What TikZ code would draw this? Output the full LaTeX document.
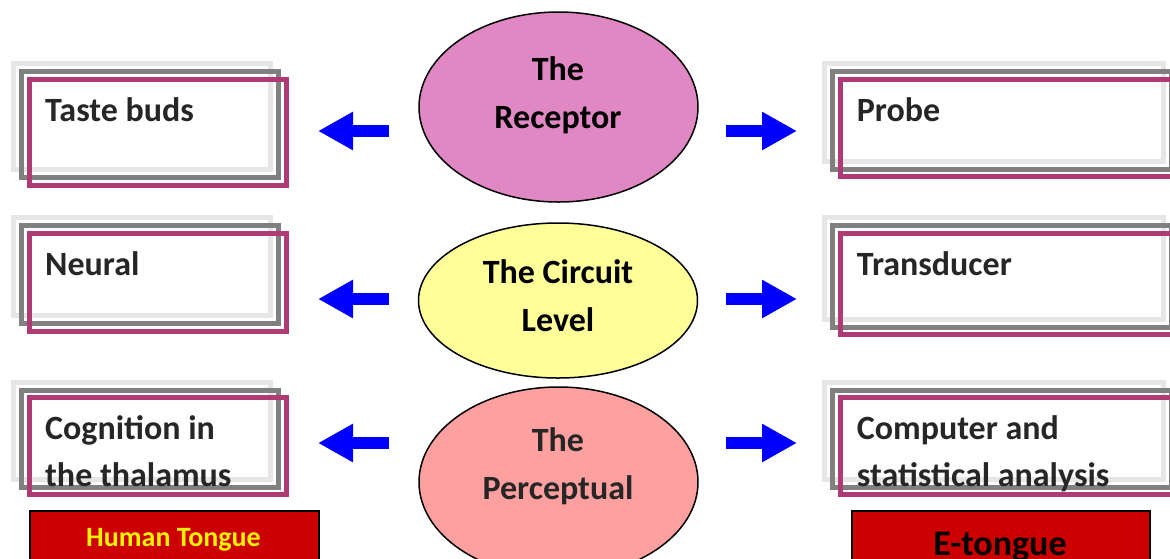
\documentclass[tikz,border=0pt]{standalone}
\usepackage{fontspec}
\setmainfont{Carlito}
\usetikzlibrary{arrows.meta, shapes.geometric}

\definecolor{framelight}{RGB}{230,230,230}
\definecolor{framedark}{RGB}{128,128,128}
\definecolor{framepink}{RGB}{176,58,116}
\definecolor{receptorfill}{RGB}{224,136,196}
\definecolor{circuitfill}{RGB}{255,255,153}
\definecolor{perceptfill}{RGB}{255,160,160}
\definecolor{tonguered}{RGB}{204,0,0}
\definecolor{textgray}{RGB}{38,38,38}

\begin{document}
\begin{tikzpicture}[x=1pt, y=-1pt,
    level/.style = {draw, ellipse, line width=1.5pt, minimum width=279pt},
    lightframe/.style = {draw=framelight, line width=5pt},
    darkframe/.style = {draw=framedark, line width=5pt},
    pinkframe/.style = {draw=framepink, line width=5pt},
    boxtext/.style = {anchor=base west, align=left, inner sep=0pt, text=textgray,
                      font=\fontsize{34}{47}\selectfont\bfseries},
    leveltext/.style = {anchor=base, align=center, inner sep=0pt,
                        font=\fontsize{34}{48}\selectfont\bfseries},
    bluearrow/.style = {draw=blue, line width=12pt, -{Triangle[length=35pt, width=36pt]}},
    tonguebox/.style = {draw=black, fill=tonguered, line width=1.5pt, anchor=north west, minimum height=80pt}]
      \useasboundingbox (0,0) rectangle (1170,558);
      \clip (0,0) rectangle (1170,558);

      % three frames per box
      \foreach \x/\y/\w/\h in {13.5/63.5/257/106, 13.5/217.5/257/98, 13.5/382/257/97,
                                824.8/63.5/338.2/97.5, 824.8/217.5/338.2/101.5, 824.8/382/338.2/97}
               {
                 \draw [lightframe] (\x,\y) rectangle ++(\w,\h);
                 \draw [darkframe] (\x+8,\y+8) rectangle ++(\w,\h);
                 \draw [pinkframe] (\x+16,\y+15.5) rectangle ++(\w,\h);
               }
      % base of a two-line node is its last line
      \node [boxtext] (taste) at (45, 121.7) {Taste buds};
      \node [boxtext] (neural) at (45, 275) {Neural};
      \node [boxtext] (cognition) at (45, 486.7) {Cognition in\\the thalamus};
      \node [boxtext] (probe) at (856.7, 121.7) {Probe};
      \node [boxtext] (transducer) at (856.7, 275) {Transducer};
      \node [boxtext] (computer) at (856.7, 486.7) {Computer and\\statistical analysis};

      % the levels
      \node [level, fill=receptorfill, minimum height=190pt] (receptor) at (558.5, 107) {};
      \node [level, fill=circuitfill, minimum height=155pt] (circuit) at (558, 300.5) {};
      \node [level, fill=perceptfill, minimum height=190pt] (perceptual) at (558.5, 482) {};
      \node [leveltext] (receptor-t) at (558, 128) {The\\Receptor};
      \node [leveltext] (circuit-t) at (558, 331.7) {The Circuit\\Level};
      \node [leveltext, text=textgray] (perceptual-t) at (558, 499.3) {The\\Perceptual};

      % arrows
      \foreach \n/\y in {1/131, 2/299, 3/443}
               {
                 \coordinate (l\n s) at (389, \y);
                 \coordinate (l\n e) at (318, \y);
                 \coordinate (r\n s) at (726, \y);
                 \coordinate (r\n e) at (797, \y);
                 \draw [bluearrow] (l\n s) -- (l\n e);
                 \draw [bluearrow] (r\n s) -- (r\n e);
               }

      % tongues
      \node [tonguebox, minimum width=289pt] (human) at (29, 510) {};
      \node [anchor=base, inner sep=0pt, text=yellow, font=\fontsize{28}{34}\selectfont\bfseries] (human-t) at (173.5, 546) {Human Tongue};
      \node [tonguebox, minimum width=298pt] (etongue) at (851, 510) {};
      \node [anchor=base, inner sep=0pt, font=\fontsize{36}{43}\selectfont\bfseries] (etongue-t) at (1000, 555) {E-tongue};
    \end{tikzpicture}
\end{document}
